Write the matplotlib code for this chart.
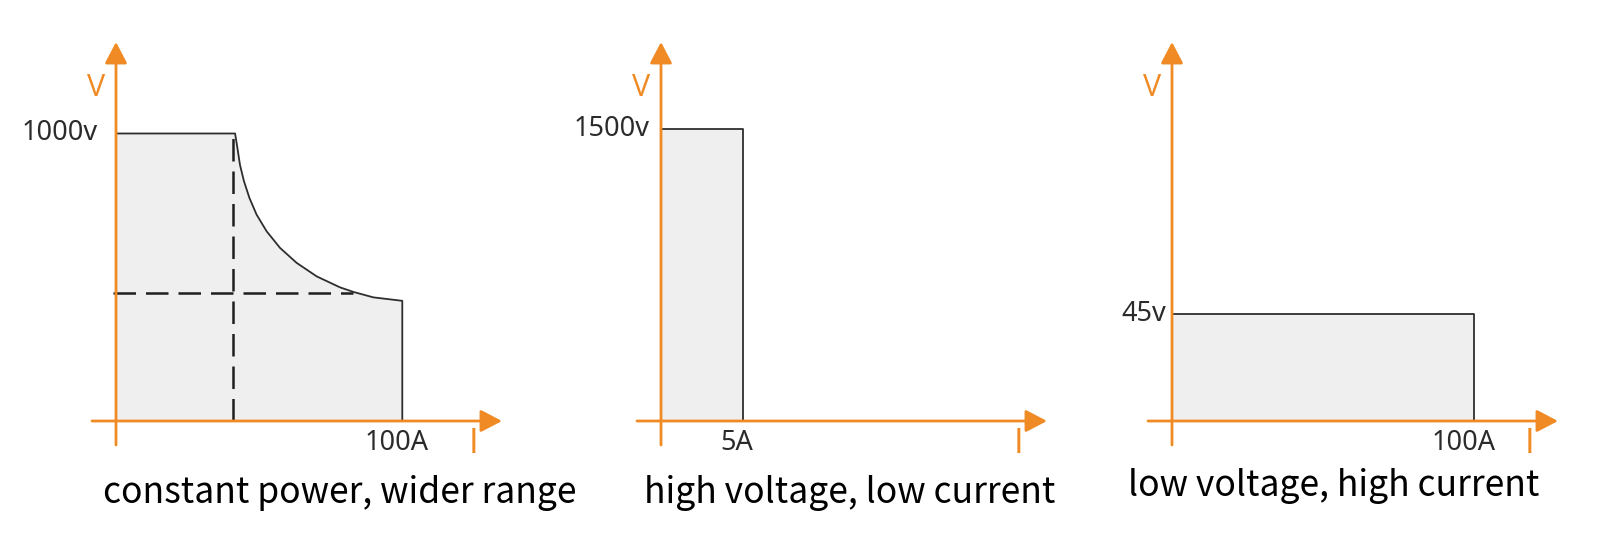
import matplotlib
matplotlib.use("Agg")
import matplotlib.pyplot as plt

W, H = 1600, 538
ORANGE = "#F08A24"
FILL = "#EFEFEF"
EDGE = "#2E2E2E"
TEXT = "#2B2B2B"

# panel 1: constant power envelope (current A, voltage V)
cp_current = [0, 41.6, 42.4, 43.3, 44.7, 46.6, 49.1, 52.6, 57.3, 63.1, 70.1, 78.2, 82.9, 89.9, 100]
cp_voltage = [1000, 1000, 950, 891, 834, 776, 718, 660, 602, 550, 503, 465, 449, 430, 418]
cp_dash_current = 41.0
cp_dash_voltage = 444
cp_dash_end = 82.9

# panel 2 / 3: rectangular ranges
hv_current, hv_voltage = 5, 1500
lv_current, lv_voltage = 100, 45

v_labels = ["1000v", "1500v", "45v"]
i_labels = ["100A", "5A", "100A"]
titles = ["constant power, wider range", "high voltage, low current", "low voltage, high current"]

# layout in pixels: axes box (left, right, top, bottom), origin, pixel of (max I, max V)
LAYOUT = [
    dict(box=(92, 502, 42, 445), origin=(116, 421), full=(402.3, 133.5), vmax=1000, imax=100),
    dict(box=(637, 1047, 42, 445), origin=(661, 421), full=(743, 129), vmax=1500, imax=5),
    dict(box=(1148, 1558, 42, 445), origin=(1172, 421), full=(1474, 314), vmax=45, imax=100),
]
V_LABEL_DX = [-18, -11, -6]
I_LABEL_DX = [-6, -6, -10]
TITLE_POS = [(340, 503), (850, 503), (1334, 496)]


def make_axes(fig, lay):
    left, right, top, bottom = lay["box"]
    ox, oy = lay["origin"]
    sx = (lay["full"][0] - ox) / lay["imax"]
    sy = (oy - lay["full"][1]) / lay["vmax"]
    ax = fig.add_axes([left / W, 1 - bottom / H, (right - left) / W, (bottom - top) / H])
    ax.set_xlim((left - ox) / sx, (right - ox) / sx)
    ax.set_ylim((oy - bottom) / sy, (oy - top) / sy)
    ax.set_axis_off()
    return ax


def draw_axes_arrows(ax):
    style = "-|>,head_length=1.3,head_width=0.68"
    kw = dict(arrowstyle=style, mutation_scale=10, color=ORANGE, lw=2.0, shrinkA=0, shrinkB=0)
    ax.annotate("", xy=(1, 0), xytext=(0, 0), xycoords=ax.get_yaxis_transform(),
                arrowprops=kw, zorder=5)
    ax.annotate("", xy=(0, 1), xytext=(0, 0), xycoords=ax.get_xaxis_transform(),
                arrowprops=kw, zorder=5)
    # axis names
    ax.annotate("V", xy=(0, 1), xycoords=ax.get_xaxis_transform(), xytext=(-20, -46),
                textcoords="offset pixels", ha="center", va="center", color=ORANGE,
                fontsize=22, family="Open Sans")
    ax.annotate("I", xy=(0.931, 0), xycoords=ax.get_yaxis_transform(), xytext=(0, -23),
                textcoords="offset pixels", ha="center", va="center", color=ORANGE,
                fontsize=25, family="Open Sans")


def main():
    plt.rcParams["font.family"] = ["Noto Sans", "DejaVu Sans"]
    fig = plt.figure(figsize=(W / 100, H / 100), dpi=100)
    fig.patch.set_facecolor("white")

    axes = [make_axes(fig, lay) for lay in LAYOUT]

    # panel 1
    ax = axes[0]
    xs = cp_current + [cp_current[-1], 0]
    ys = cp_voltage + [0, 0]
    ax.fill(xs, ys, color=FILL, lw=0, zorder=1)
    ax.plot(cp_current + [cp_current[-1]], cp_voltage + [0], color=EDGE, lw=1.3,
            solid_joinstyle="round", zorder=3)
    dash = (0, (9.0, 4.0))
    ax.plot([cp_dash_current, cp_dash_current], [0, cp_voltage[0]], color="#1E1E1E",
            lw=1.8, ls=dash, zorder=3)
    ax.plot([-1, cp_dash_end], [cp_dash_voltage, cp_dash_voltage], color="#1E1E1E",
            lw=1.8, ls=dash, zorder=3)

    # panel 2 and 3
    for ax, (ci, vv) in zip(axes[1:], [(hv_current, hv_voltage), (lv_current, lv_voltage)]):
        ax.fill([0, 0, ci, ci], [0, vv, vv, 0], color=FILL, lw=0, zorder=1)
        ax.plot([0, ci, ci], [vv, vv, 0], color=EDGE, lw=1.3, zorder=3)

    for i, ax in enumerate(axes):
        draw_axes_arrows(ax)
        lay = LAYOUT[i]
        ax.annotate(v_labels[i], xy=(0, lay["vmax"]), xytext=(V_LABEL_DX[i], 0),
                    textcoords="offset pixels", ha="right", va="center", color=TEXT,
                    fontsize=19.5)
        ax.annotate(i_labels[i], xy=(lay["imax"], 0), xytext=(I_LABEL_DX[i], -22),
                    textcoords="offset pixels", ha="center", va="center", color=TEXT,
                    fontsize=19.5)
        tx, ty = TITLE_POS[i]
        fig.text(tx / W, 1 - ty / H, titles[i], ha="center", va="baseline", color="black",
                 fontsize=25.5, family=["Noto Sans CJK SC", "DejaVu Sans"])

    fig.savefig("out.png", dpi=100, facecolor="white")
    plt.close(fig)


if __name__ == "__main__":
    main()
